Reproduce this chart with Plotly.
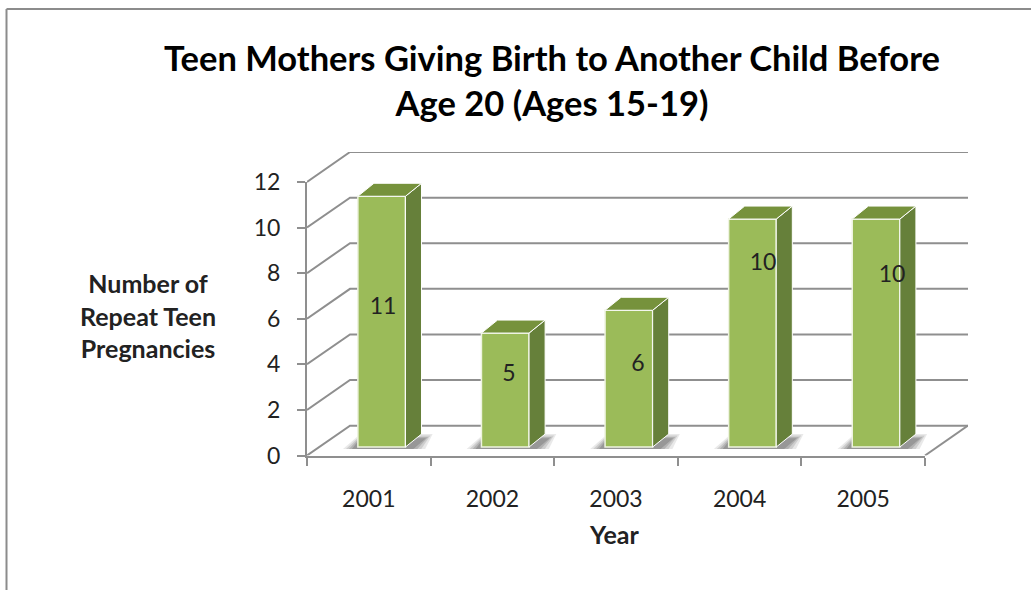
import plotly.graph_objects as go

years = ["2001", "2002", "2003", "2004", "2005"]
repeat_births = [11, 5, 6, 10, 10]
y_ticks = [0, 2, 4, 6, 8, 10, 12]

# label placement in the reference (offset from bar centre, height on the wall)
label_dx = [0.115, 0.134, 0.178, 0.19, 0.233]
label_y = [6.48, 3.54, 3.96, 8.37, 7.88]

W, H = 1031, 590
FONT = "Lato"
GRID = "#8f8f8f"
FRONT, SIDE, TOP = "#9BBB59", "#66803A", "#76923C"

# oblique projection, in category / value units
WALL_DX, WALL_DY = 0.348, 1.31
BAR_OFF_DX, BAR_OFF_DY = 0.104, 0.37
BAR_W, BAR_DX, BAR_DY = 0.385, 0.13, 0.57

def fx(a, b):
    return [a / W, b / W]

def fy(top, bottom):
    return [1 - bottom / H, 1 - top / H]

fig = go.Figure()

# back layer (x, y): walls and floor
wx, wy = [], []
left, right = -0.5, 4.5
for v in y_ticks:
    wx += [left, left + WALL_DX, right + WALL_DX, None]
    wy += [v, v + WALL_DY, v + WALL_DY, None]
wx += [right, right + WALL_DX, None]
wy += [0, WALL_DY, None]
fig.add_trace(go.Scatter(x=wx, y=wy, mode="lines", line=dict(color=GRID, width=2),
                         hoverinfo="skip", showlegend=False, cliponaxis=False,
                         xaxis="x", yaxis="y"))

centres = [i + BAR_OFF_DX for i in range(len(years))]

# floor shadows: nested parallelograms, darker towards the bar
for spread, alpha in [(1.0, 0.12), (0.8, 0.16), (0.6, 0.2), (0.4, 0.25)]:
    for c in centres:
        a = c - BAR_W / 2
        b = c + BAR_W / 2
        bottom = BAR_OFF_DY - 0.09
        far = BAR_OFF_DY + BAR_DY * (0.45 + 0.55 * spread)
        x = [a - 0.12 * spread, a + 0.02, b + BAR_DX + 0.09 * spread, b + 0.16 * spread]
        y = [bottom, far, far, bottom]
        fig.add_trace(go.Scatter(x=x + x[:1], y=y + y[:1], mode="lines", fill="toself",
                                 line=dict(width=0), fillcolor=f"rgba(70,70,70,{alpha})",
                                 hoverinfo="skip", showlegend=False, xaxis="x", yaxis="y"))

# front plane (x2, y2): carries the visible axes
fig.add_trace(go.Scatter(x=years, y=repeat_births, mode="markers", marker=dict(opacity=0),
                         hoverinfo="skip", showlegend=False, xaxis="x2", yaxis="y2"))

# bars (x3, y3): side and top faces
for c, v in zip(centres, repeat_births):
    a = c - BAR_W / 2
    b = c + BAR_W / 2
    base = BAR_OFF_DY
    fig.add_trace(go.Scatter(
        x=[b, b + BAR_DX, b + BAR_DX, b, b],
        y=[base, base + BAR_DY, base + v + BAR_DY, base + v, base],
        mode="lines", fill="toself", fillcolor=SIDE, line=dict(color="white", width=1),
        hoverinfo="skip", showlegend=False, xaxis="x3", yaxis="y3"))
    fig.add_trace(go.Scatter(
        x=[a, a + BAR_DX, b + BAR_DX, b, a],
        y=[base + v, base + v + BAR_DY, base + v + BAR_DY, base + v, base + v],
        mode="lines", fill="toself", fillcolor=TOP, line=dict(color="white", width=1),
        hoverinfo="skip", showlegend=False, xaxis="x3", yaxis="y3"))

# front faces
fig.add_trace(go.Bar(x=centres, y=repeat_births, base=BAR_OFF_DY, width=BAR_W,
                     marker=dict(color=FRONT, line=dict(color="#EEF3E0", width=1.5)),
                     hoverinfo="skip", showlegend=False, xaxis="x3", yaxis="y3"))

# data labels
fig.add_trace(go.Scatter(
    x=[i + d for i, d in enumerate(label_dx)], y=label_y,
    text=[str(v) for v in repeat_births], mode="text",
    textfont=dict(family=FONT, size=23, color="#222222"),
    hoverinfo="skip", showlegend=False, xaxis="x3", yaxis="y3"))

world_x = dict(domain=fx(307, 968), range=[-0.5, -0.5 + 661 / 123.6], visible=False,
               fixedrange=True, automargin=False)
world_y = dict(domain=fy(152, 455.5), range=[0, 303.5 / 22.8], visible=False,
               fixedrange=True, automargin=False)

fig.update_layout(
    template="none",
    width=W, height=H, margin=dict(l=0, r=0, t=0, b=0, pad=0), autosize=False,
    paper_bgcolor="white", plot_bgcolor="rgba(0,0,0,0)", showlegend=False, barmode="overlay",
    font=dict(family=FONT, color="#222222"),
    title=dict(text="<b>Teen Mothers Giving Birth to Another Child Before<br>Age 20 (Ages 15-19)</b>",
               x=552 / W, xanchor="center", y=1 - 71 / H, yanchor="middle",
               font=dict(family=FONT, size=34.5, color="black")),
    xaxis=dict(anchor="y", **world_x),
    yaxis=dict(anchor="x", **world_y),
    xaxis2=dict(anchor="y2", domain=fx(307, 925), type="category", categoryorder="array",
                categoryarray=years, range=[-0.5, 4.5], tickson="boundaries", ticks="outside",
                ticklen=8, tickwidth=2, tickcolor=GRID, showline=True, linecolor=GRID, linewidth=2,
                showgrid=False, zeroline=False, ticklabelstandoff=22,
                tickfont=dict(family=FONT, size=23, color="#222222"), fixedrange=True, automargin=False),
    yaxis2=dict(anchor="x2", domain=fy(181.9, 455.5), range=[0, 12], tickvals=y_ticks, ticks="outside",
                ticklen=8, tickwidth=2, tickcolor=GRID, showline=True, linecolor=GRID, linewidth=2,
                showgrid=False, zeroline=False, ticklabelstandoff=12,
                tickfont=dict(family=FONT, size=23, color="#222222"), fixedrange=True, automargin=False),
    xaxis3=dict(anchor="y3", **world_x),
    yaxis3=dict(anchor="x3", **world_y),
    shapes=[
        dict(type="line", xref="paper", yref="paper", x0=6.5 / W, x1=1.01, y0=1 - 9 / H, y1=1 - 9 / H,
             line=dict(color="#8c8c8c", width=2)),
        dict(type="line", xref="paper", yref="paper", x0=6.5 / W, x1=6.5 / W, y0=1 - 9 / H, y1=-0.01,
             line=dict(color="#8c8c8c", width=2)),
    ],
    annotations=[
        dict(text="<b>Year</b>", xref="paper", yref="paper", x=614 / W, y=1 - 534 / H,
             xanchor="center", yanchor="middle", showarrow=False,
             font=dict(family=FONT, size=25, color="#222222")),
        dict(text="<b>Number of<br>Repeat Teen<br>Pregnancies</b>", xref="paper", yref="paper",
             x=148 / W, y=1 - 315 / H, xanchor="center", yanchor="middle", showarrow=False,
             font=dict(family=FONT, size=25, color="#222222")),
    ],
)

fig.write_html("out.html", config={"displayModeBar": False},
               post_script="document.body.style.margin='0';document.body.style.overflow='hidden';")
